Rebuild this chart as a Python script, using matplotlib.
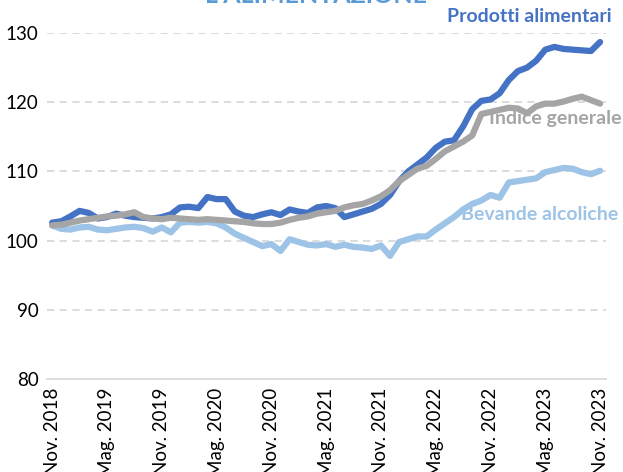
import numpy as np
import matplotlib.pyplot as plt

plt.rcParams['font.family'] = ['Lato', 'DejaVu Sans']

# mesi da Nov. 2018 a Nov. 2023
tick_labels = ['Nov. 2018', 'Mag. 2019', 'Nov. 2019', 'Mag. 2020', 'Nov. 2020',
               'Mag. 2021', 'Nov. 2021', 'Mag. 2022', 'Nov. 2022', 'Mag. 2023', 'Nov. 2023']

alimentari = [102.6, 102.8, 103.5, 104.3, 104.0, 103.2, 103.4, 103.9, 103.6, 103.4,
              103.3, 103.2, 103.4, 103.8, 104.8, 104.9, 104.7, 106.3, 106.0, 106.0,
              104.2, 103.6, 103.4, 103.8, 104.1, 103.7, 104.5, 104.2, 104.0, 104.8,
              105.0, 104.7, 103.4, 103.8, 104.2, 104.6, 105.3, 106.6, 108.6, 110.0,
              111.0, 112.0, 113.4, 114.3, 114.5, 116.5, 119.0, 120.2, 120.4, 121.3,
              123.2, 124.5, 125.0, 126.0, 127.6, 128.0, 127.7, 127.6, 127.5, 127.4, 128.7]

generale = [102.2, 102.3, 102.6, 102.9, 103.1, 103.3, 103.5, 103.6, 103.8, 104.1,
            103.4, 103.2, 103.1, 103.3, 103.2, 103.1, 103.0, 103.1, 103.0, 102.9,
            102.8, 102.7, 102.5, 102.4, 102.4, 102.6, 103.0, 103.3, 103.5, 103.9,
            104.1, 104.3, 104.8, 105.1, 105.3, 105.8, 106.4, 107.3, 108.6, 109.5,
            110.4, 110.8, 111.8, 112.9, 113.6, 114.3, 115.2, 118.3, 118.6, 118.9,
            119.2, 119.1, 118.4, 119.4, 119.8, 119.8, 120.1, 120.5, 120.8, 120.3, 119.8]

alcoliche = [102.2, 101.7, 101.6, 101.9, 102.0, 101.6, 101.5, 101.7, 101.9, 102.0,
             101.8, 101.3, 101.9, 101.2, 102.6, 102.7, 102.6, 102.7, 102.5, 101.9,
             101.0, 100.4, 99.8, 99.2, 99.5, 98.5, 100.2, 99.8, 99.4, 99.3,
             99.5, 99.1, 99.4, 99.1, 99.0, 98.8, 99.3, 97.8, 99.8, 100.2,
             100.6, 100.6, 101.6, 102.5, 103.4, 104.5, 105.3, 105.8, 106.6, 106.2,
             108.4, 108.6, 108.8, 109.0, 109.9, 110.2, 110.5, 110.4, 109.9, 109.6, 110.1]

blu = '#4472C4'
grigio = '#A5A5A5'
azzurro = '#9DC3E6'

x = np.arange(len(alimentari))

fig = plt.figure(figsize=(6.23, 4.72), dpi=100)
ax = fig.add_axes([0.075, 0.197, 0.897, 0.733])

ax.plot(x, alcoliche, color=azzurro, lw=4.5, solid_capstyle='round')
ax.plot(x, alimentari, color=blu, lw=4.5, solid_capstyle='round')
ax.plot(x, generale, color=grigio, lw=4.5, solid_capstyle='round')

ax.set_ylim(80, 130)
ax.set_xlim(-0.6, 60.6)
ax.set_yticks(range(80, 131, 10))
ax.set_xticks(x[::6])
ax.set_xticklabels(tick_labels, rotation=90, va='top', ha='center')
ax.tick_params(length=0, labelsize=13.5, colors='#000000')
ax.tick_params(axis='x', pad=6)
ax.tick_params(axis='y', pad=6)

for v in range(90, 131, 10):
    ax.axhline(v, color='#D9D9D9', lw=1.3, ls=(0, (4, 3)), zorder=0)
for s in ['top', 'right', 'left']:
    ax.spines[s].set_visible(False)
ax.spines['bottom'].set_color('#D9D9D9')
ax.spines['bottom'].set_linewidth(1.3)

ax.text(61.3, 131.2, 'Prodotti alimentari', color=blu, fontsize=14,
        fontweight='bold', ha='right', va='bottom')
ax.text(62.3, 116.4, 'Indice generale', color=grigio, fontsize=14,
        fontweight='bold', ha='right', va='bottom')
ax.text(62.0, 102.5, 'Bevande alcoliche', color=azzurro, fontsize=14,
        fontweight='bold', ha='right', va='bottom')

fig.text(0.507, 0.985, "L'ALIMENTAZIONE", color='#5B9BD5', fontsize=18,
         fontweight='bold', ha='center', va='bottom')

fig.savefig('out.png', dpi=100)
